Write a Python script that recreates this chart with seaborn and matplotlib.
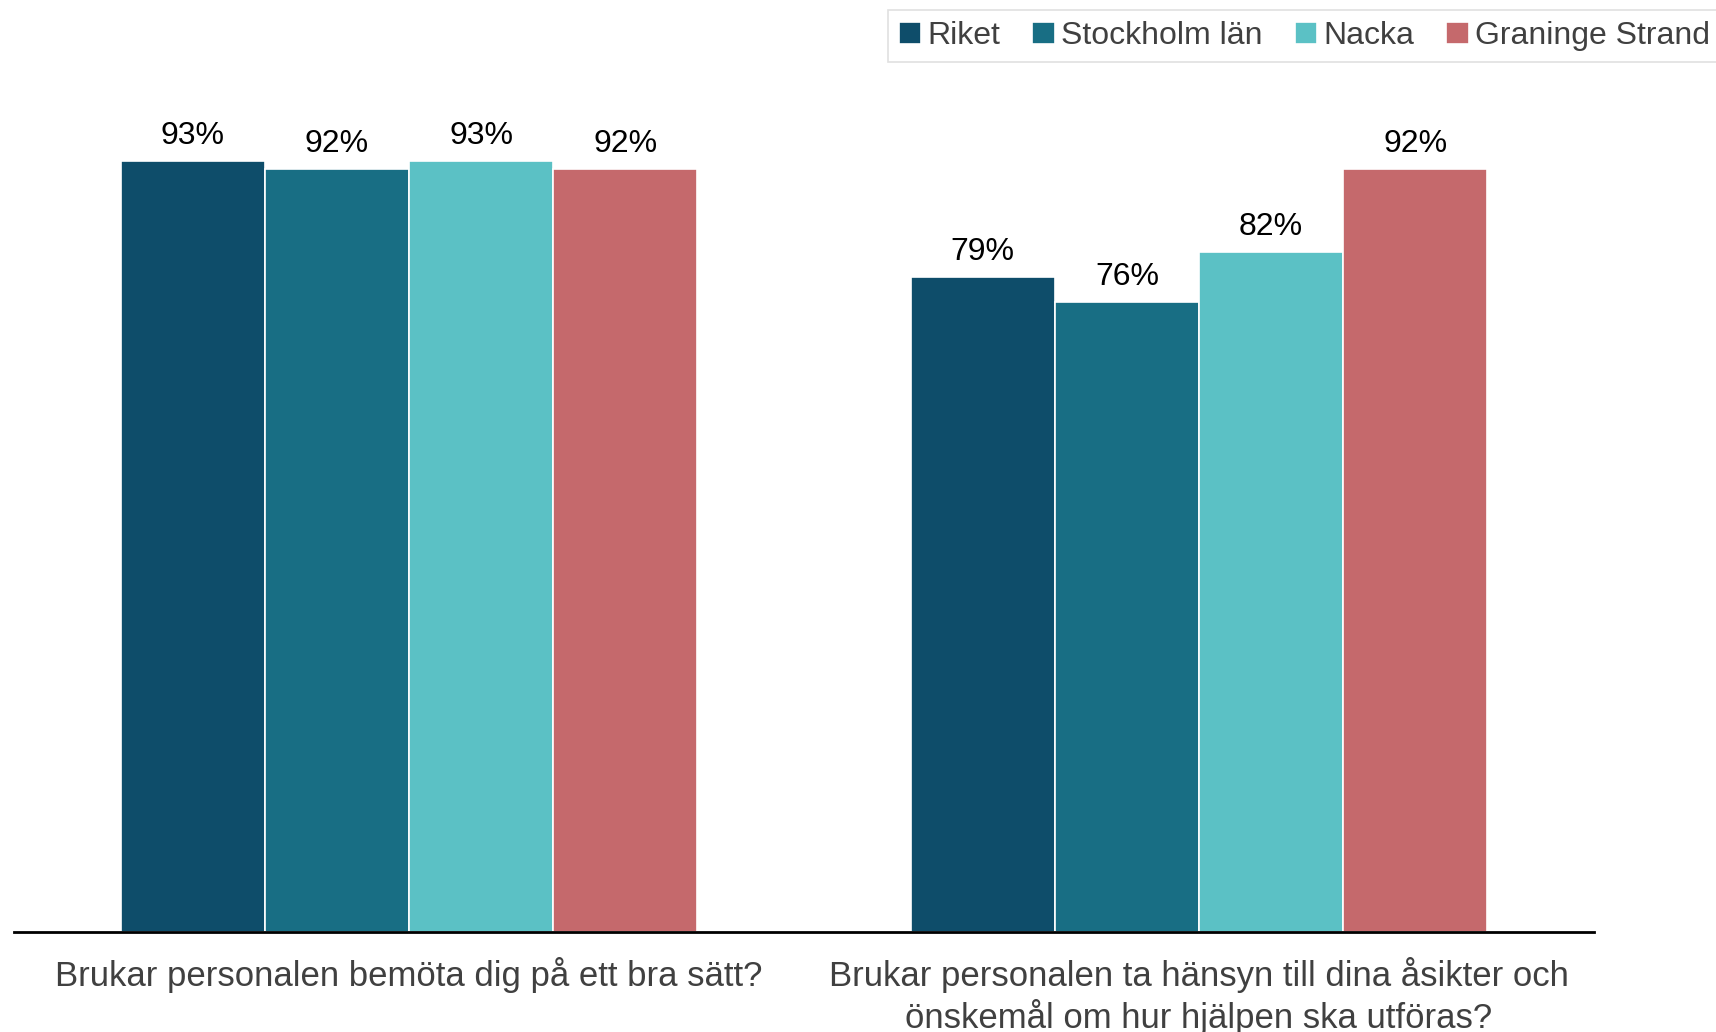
import pandas as pd
import seaborn as sns
import matplotlib.pyplot as plt

# data
questions = ['Brukar personalen bemöta dig på ett bra sätt?',
             'Brukar personalen ta hänsyn till dina åsikter och\nönskemål om hur hjälpen ska utföras?']
areas = ['Riket', 'Stockholm län', 'Nacka', 'Graninge Strand']
q1_values = [0.93, 0.92, 0.93, 0.92]
q2_values = [0.79, 0.76, 0.82, 0.92]
colors = ['#0E4D6A', '#186E84', '#5BC1C5', '#C5696C']

rows = []
for q, vals in zip(questions, [q1_values, q2_values]):
    for a, v in zip(areas, vals):
        rows.append({'fraga': q, 'omrade': a, 'andel': v})
df = pd.DataFrame(rows)

sns.set_style('white')
plt.rcParams['font.family'] = ['Liberation Sans', 'DejaVu Sans']

fig = plt.figure(figsize=(17.16, 10.32), dpi=100)
ax = fig.add_axes([14 / 1716, 1 - 932 / 1032, 1580 / 1716, 932 / 1032])

sns.barplot(data=df, x='fraga', y='andel', hue='omrade', palette=colors,
            width=0.73, edgecolor='white', linewidth=1.2, ax=ax, saturation=1)

for cont in ax.containers:
    ax.bar_label(cont, labels=[f'{v * 100:.0f}%' for v in cont.datavalues],
                 padding=7, fontsize=23, color='black')

ax.set_ylim(0, 1.124)
ax.set_xlim(-0.5, 1.5)
ax.set_xlabel('')
ax.set_ylabel('')
ax.set_yticks([])
for s in ['top', 'right', 'left']:
    ax.spines[s].set_visible(False)
ax.spines['bottom'].set_color('black')
ax.spines['bottom'].set_linewidth(2)
ax.tick_params(axis='x', length=0, labelsize=25, labelcolor='#404040', pad=18)

leg = ax.legend(loc='upper right', bbox_to_anchor=(1.003, 1 - 10 / 1032),
                bbox_transform=fig.transFigure, ncol=4, fontsize=23,
                frameon=True, fancybox=False, handlelength=0.7, handleheight=0.7,
                handletextpad=0.2, columnspacing=1.0, borderpad=0.35,
                borderaxespad=0)
leg.get_frame().set_edgecolor('#D9D9D9')
leg.get_frame().set_linewidth(1.2)
for t in leg.get_texts():
    t.set_color('#404040')

fig.savefig('out.png', dpi=100)
